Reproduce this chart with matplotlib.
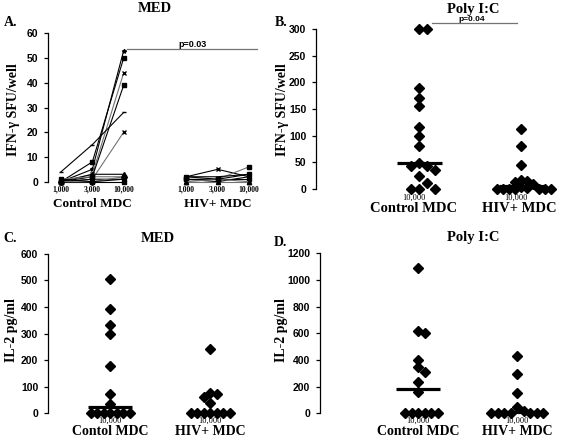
import matplotlib
matplotlib.use("Agg")
import matplotlib.pyplot as plt
import numpy as np

# ---------------- data ----------------
dose_labels = ["1,000", "3,000", "10,000"]
groups = ["Control MDC", "HIV+ MDC"]

# Panel A: IFN-gamma SFU/well, MED, per donor across MDC doses
ctrl_med_lines = [
    [0, 5, 53],
    [0, 8, 50],
    [0, 3, 44],
    [0, 2, 39],
    [4, 15, 28],
    [0, 1, 20],
    [0, 3, 3],
    [1, 2, 2],
    [0, 1, 1],
    [0, 0, 0],
    [0, 0, 2],
    [1, 0, 1],
]
hiv_med_lines = [
    [2, 5, 2],
    [1, 1, 6],
    [2, 2, 3],
    [1, 0, 2],
    [0, 0, 0],
    [1, 1, 1],
    [0, 1, 0],
    [2, 1, 3],
]
p_A = "p=0.03"

# Panel B: IFN-gamma SFU/well, Poly I:C at 10,000
ifn_poly_ctrl = [300, 300, 189, 171, 156, 117, 99, 80, 49, 44, 44, 35, 24, 11, 0, 0, 0]
ifn_poly_hiv = [112, 81, 45, 17, 15, 13, 10, 4, 2, 0, 0, 0, 0, 0, 0, 0]
ifn_poly_medians = [48, 5]
p_B = "p=0.04"

# Panel C: IL-2 pg/ml, MED
il2_med_ctrl = [505, 393, 332, 298, 178, 72, 35, 0, 0, 0, 0, 0, 0, 0]
il2_med_hiv = [240, 78, 72, 62, 38, 0, 0, 0, 0, 0, 0, 0]
il2_med_medians = [22, 2]

# Panel D: IL-2 pg/ml, Poly I:C
il2_poly_ctrl = [1090, 615, 600, 400, 345, 310, 235, 160, 0, 0, 0, 0, 0, 0]
il2_poly_hiv = [430, 295, 155, 45, 20, 0, 0, 0, 0, 0, 0, 0]
il2_poly_medians = [180, 10]

# ---------------- figure ----------------
W, H = 563, 441
fig = plt.figure(figsize=(W / 100, H / 100), dpi=100)
fig.patch.set_facecolor("white")

SERIF = "Liberation Serif"
SANS = "Liberation Sans"


def add_axes_px(left, top, right, bottom):
    return fig.add_axes([left / W, 1 - bottom / H, (right - left) / W, (bottom - top) / H])


def style_axes(ax, yticks):
    for s in ["top", "right", "bottom"]:
        ax.spines[s].set_visible(False)
    ax.spines["left"].set_linewidth(0.9)
    ax.set_xticks([])
    ax.set_yticks(yticks)
    ax.tick_params(axis="y", direction="out", length=3, width=0.9, pad=4)
    for t in ax.get_yticklabels():
        t.set_fontfamily(SANS)
        t.set_fontweight("bold")
        t.set_fontsize(7.5)


def ftext(xpx, ypx, s, **kw):
    fig.text(xpx / W, 1 - ypx / H, s, **kw)


def below(ax, x, ypx, s, **kw):
    pos = ax.get_position()
    fy = 1 - ypx / H
    ya = (fy - pos.y0) / pos.height
    ax.text(x, ya, s, transform=ax.get_xaxis_transform(), ha="center", va="center",
            clip_on=False, **kw)


def swarm_x(ax, x0, values, diam_px=7.0, step_px=7.0):
    tr = ax.transData
    px0 = tr.transform((x0, 0))[0]
    ppx = tr.transform((x0 + 1, 0))[0] - px0
    placed = []
    xs = []
    for v in values:
        yp = tr.transform((x0, v))[1]
        for k in [0, 1, -1, 2, -2, 3, -3, 4, -4, 5, -5, 6, -6, 7, -7]:
            xp = px0 + k * step_px
            if all((xp - a) ** 2 + (yp - b) ** 2 >= diam_px ** 2 - 0.01 for a, b in placed):
                break
        placed.append((xp, yp))
        xs.append(x0 + (xp - px0) / ppx)
    return xs


def dot_panel(ax, vals_list, medians, steps, half=0.22):
    for i, vals in enumerate(vals_list):
        xs = swarm_x(ax, i, vals, diam_px=steps[i], step_px=steps[i])
        ax.plot(xs, vals, linestyle="none", marker="D", markersize=5.0,
                color="black", clip_on=False, zorder=3)
        ax.plot([i - half, i + half], [medians[i], medians[i]], color="black",
                lw=2.3, solid_capstyle="butt", clip_on=False, zorder=4)


# ---------- Panel A ----------
axA = add_axes_px(48, 33.3, 262, 181.7)
axA.set_xlim(-0.415, 6.415)
axA.set_ylim(0, 60)
style_axes(axA, [0, 10, 20, 30, 40, 50, 60])
ctrl_x = [0, 1, 2]
hiv_x = [4, 5, 6]
markers = ["*", "s", "x", "s", "_", "x", "^", "s", "^", "s", "D", "x"]
greys = ["black", "black", "0.45", "black", "black", "0.45", "black", "0.45",
         "black", "black", "0.45", "black"]
for j, ys in enumerate(ctrl_med_lines):
    axA.plot(ctrl_x, ys, color=greys[j % len(greys)], lw=0.8, marker=markers[j % len(markers)],
             markersize=3, mfc="black", mec="black", clip_on=False)
for j, ys in enumerate(hiv_med_lines):
    axA.plot(hiv_x, ys, color=greys[(j + 1) % len(greys)], lw=0.8,
             marker=markers[(j + 2) % len(markers)], markersize=3, mfc="black",
             mec="black", clip_on=False)
axA.plot([2.1, 6.27], [53.7, 53.7], color="0.45", lw=0.9, clip_on=False)
axA.text(4.2, 55.3, p_A, ha="center", va="center", fontfamily=SANS,
         fontweight="bold", fontsize=6.5)
for xi, lab in zip(ctrl_x + hiv_x, dose_labels + dose_labels):
    below(axA, xi, 189.5, lab, fontfamily=SERIF, fontweight="bold", fontsize=5.5)
below(axA, 1, 204, groups[0], fontfamily=SERIF, fontweight="bold", fontsize=9.5)
below(axA, 5, 204, groups[1], fontfamily=SERIF, fontweight="bold", fontsize=9.5)
ftext(155, 9, "MED", ha="center", va="center", fontfamily=SERIF, fontweight="bold", fontsize=10.5)
ftext(11, 23, "A.", ha="center", va="center", fontfamily=SERIF, fontweight="bold", fontsize=10)
ftext(14, 110, "IFN-\u03b3 SFU/well", ha="center", va="center", rotation=90,
      fontfamily=SERIF, fontweight="bold", fontsize=10)

# ---------- Panel B ----------
axB = add_axes_px(316, 29, 560, 189)
axB.set_xlim(-1.01, 1.38)
axB.set_ylim(0, 300)
style_axes(axB, [0, 50, 100, 150, 200, 250, 300])
dot_panel(axB, [ifn_poly_ctrl, ifn_poly_hiv], ifn_poly_medians, steps=[8, 6])
axB.plot([0.13, 0.96], [312, 312], color="0.45", lw=0.9, clip_on=False)
axB.text(0.52, 317, p_B, ha="center", va="center", fontfamily=SANS,
         fontweight="bold", fontsize=6)
for xi in [0, 1]:
    below(axB, xi - 0.05, 197.5, "10,000", fontfamily=SERIF, fontsize=6)
below(axB, -0.05, 208, groups[0], fontfamily=SERIF, fontweight="bold", fontsize=10.5)
below(axB, 0.98, 208, groups[1], fontfamily=SERIF, fontweight="bold", fontsize=10.5)
ftext(473, 10, "Poly I:C", ha="center", va="center", fontfamily=SERIF, fontweight="bold", fontsize=10.5)
ftext(281, 22, "B.", ha="center", va="center", fontfamily=SERIF, fontweight="bold", fontsize=10)
ftext(283, 110, "IFN-\u03b3 SFU/well", ha="center", va="center", rotation=90,
      fontfamily=SERIF, fontweight="bold", fontsize=10)

# ---------- Panel C ----------
axC = add_axes_px(48, 253.7, 250, 413.3)
axC.set_xlim(-0.62, 1.4)
axC.set_ylim(0, 600)
style_axes(axC, [0, 100, 200, 300, 400, 500, 600])
dot_panel(axC, [il2_med_ctrl, il2_med_hiv], il2_med_medians, steps=[6.5, 6.5])
for xi in [0, 1]:
    below(axC, xi, 420.5, "10,000", fontfamily=SERIF, fontsize=6)
below(axC, 0, 431.5, "Contol MDC", fontfamily=SERIF, fontweight="bold", fontsize=10)
below(axC, 1, 431.5, groups[1], fontfamily=SERIF, fontweight="bold", fontsize=10)
ftext(158, 238, "MED", ha="center", va="center", fontfamily=SERIF, fontweight="bold", fontsize=10.5)
ftext(10, 239, "C.", ha="center", va="center", fontfamily=SERIF, fontweight="bold", fontsize=10)
ftext(12, 330, "IL-2 pg/ml", ha="center", va="center", rotation=90,
      fontfamily=SERIF, fontweight="bold", fontsize=10)

# ---------- Panel D ----------
axD = add_axes_px(320, 253.3, 560, 413.3)
axD.set_xlim(-0.99, 1.43)
axD.set_ylim(0, 1200)
style_axes(axD, [0, 200, 400, 600, 800, 1000, 1200])
dot_panel(axD, [il2_poly_ctrl, il2_poly_hiv], il2_poly_medians, steps=[6.5, 6.5])
for xi in [0, 1]:
    below(axD, xi, 420.5, "10,000", fontfamily=SERIF, fontsize=6)
below(axD, 0, 431.5, groups[0], fontfamily=SERIF, fontweight="bold", fontsize=10)
below(axD, 1, 431.5, groups[1], fontfamily=SERIF, fontweight="bold", fontsize=10)
ftext(473, 237, "Poly I:C", ha="center", va="center", fontfamily=SERIF, fontweight="bold", fontsize=10.5)
ftext(280, 243, "D.", ha="center", va="center", fontfamily=SERIF, fontweight="bold", fontsize=10)
ftext(281, 330, "IL-2 pg/ml", ha="center", va="center", rotation=90,
      fontfamily=SERIF, fontweight="bold", fontsize=10)

fig.savefig("out.png", dpi=100, facecolor="white")
